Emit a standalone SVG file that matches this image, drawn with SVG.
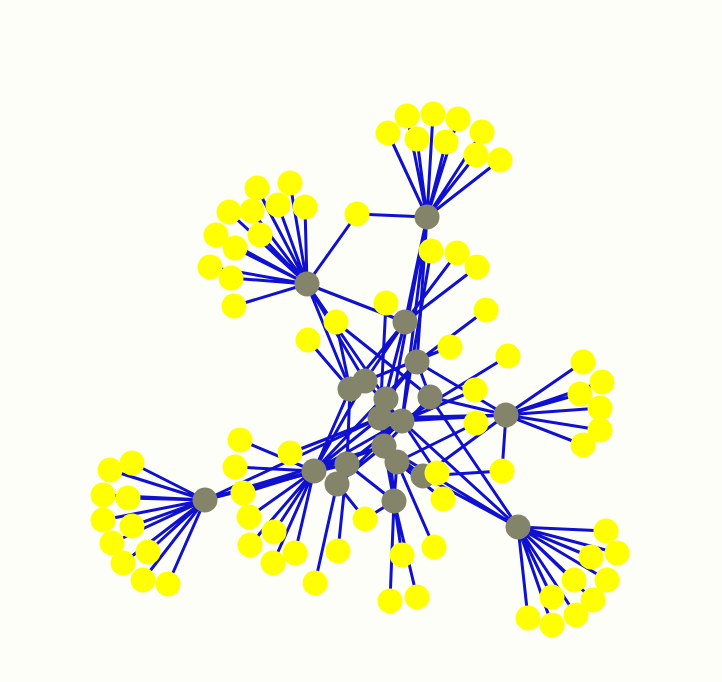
<svg xmlns="http://www.w3.org/2000/svg" width="722" height="682" viewBox="0 0 722 682">
<style>
.e{stroke:#1010d0;stroke-width:3;fill:none}
.h{fill:#84846a}
.y{fill:#ffff00}
</style>
<rect width="722" height="682" fill="#fefef8"/>
<g id="connectors" class="e">
<!-- hub A leaves -->
<path d="M307 284L257 188M307 284L290 183M307 284L278 205M307 284L305 207M307 284L229 212M307 284L252 211M307 284L216 235M307 284L260 235M307 284L235 248M307 284L210 267M307 284L231 278M307 284L234 306M307 284L357 214"/>
<!-- hub B leaves -->
<path d="M427 217L388 133M427 217L407 116M427 217L433 114M427 217L458 119M427 217L482 132M427 217L417 139M427 217L446 142M427 217L476 155M427 217L500 160M427 217L357 214"/>
<!-- hub L leaves -->
<path d="M506 415L583 362M506 415L602 382M506 415L580 394M506 415L600 408M506 415L600 430M506 415L583 445M506 415L502 471"/>
<!-- hub P leaves -->
<path d="M205 500L132 463M205 500L110 470M205 500L103 495M205 500L128 498M205 500L103 520M205 500L132 526M205 500L112 543M205 500L148 552M205 500L123 563M205 500L143 580M205 500L168 584"/>
<!-- hub M leaves -->
<path d="M314 471L240 440M314 471L235 467M314 471L243 493M314 471L249 517M314 471L274 532M314 471L250 545M314 471L295 553M314 471L273 563"/>
<!-- hub S leaves -->
<path d="M518 527L606 531M518 527L617 553M518 527L591 557M518 527L607 580M518 527L574 580M518 527L593 600M518 527L552 597M518 527L576 615M518 527L528 618M518 527L552 625"/>
<!-- central leaves -->
<path d="M402 421L431 251M405 322L457 253M405 322L477 267M417 362L486 310M380 418L386 303M350 389L336 322M430 397L336 322M350 389L308 340M365 381L450 347M402 421L508 356M402 421L475 390M397 462L476 423M380 418L290 453M337 484L315 583M347 464L338 551M337 484L365 519M394 501L365 519M394 501L402 555M397 462L434 547M394 501L390 601M394 501L417 597M397 462L443 499M402 421L437 473M423 476L502 471"/>
<!-- hub-hub -->
<path d="M307 284L405 322M307 284L350 389M307 284L365 381M307 284L386 399M427 217L405 322M427 217L417 362M427 217L402 421M427 217L384 446M405 322L350 389M405 322L365 381M405 322L380 418M417 362L430 397M417 362L386 399M417 362L506 415M417 362L314 471M350 389L314 471M350 389L347 464M365 381L314 471M365 381L402 421M430 397L506 415M430 397L518 527M430 397L384 446M386 399L394 501M380 418L506 415M380 418L205 500M380 418L314 471M402 421L506 415M402 421L518 527M402 421L347 464M402 421L337 484M384 446L205 500M384 446L518 527M384 446L314 471M384 446L394 501M397 462L394 501M397 462L518 527M314 471L205 500M347 464L205 500M314 471L402 421M347 464L394 501M337 484L384 446M423 476L518 527M423 476L506 415M423 476L384 446M394 501L380 418"/>
</g>
<g id="hubs" class="h">
<g id="hubA"><circle cx="307" cy="284" r="12.5"/></g>
<g id="hubB"><circle cx="427" cy="217" r="12.5"/></g>
<g id="hubC"><circle cx="405" cy="322" r="12.5"/></g>
<g id="hubD"><circle cx="417" cy="362" r="12.5"/></g>
<g id="hubE"><circle cx="350" cy="389" r="12.5"/></g>
<g id="hubF"><circle cx="365" cy="381" r="12.5"/></g>
<g id="hubG"><circle cx="430" cy="397" r="12.5"/></g>
<g id="hubHa"><circle cx="386" cy="399" r="12.5"/></g>
<g id="hubHb"><circle cx="380" cy="418" r="12.5"/></g>
<g id="hubI"><circle cx="402" cy="421" r="12.5"/></g>
<g id="hubJ"><circle cx="384" cy="446" r="12.5"/></g>
<g id="hubK"><circle cx="397" cy="462" r="12.5"/></g>
<g id="hubL"><circle cx="506" cy="415" r="12.5"/></g>
<g id="hubM"><circle cx="314" cy="471" r="12.5"/></g>
<g id="hubN"><circle cx="347" cy="464" r="12.5"/></g>
<g id="hubO"><circle cx="337" cy="484" r="12.5"/></g>
<g id="hubP"><circle cx="205" cy="500" r="12.5"/></g>
<g id="hubQ"><circle cx="394" cy="501" r="12.5"/></g>
<g id="hubR"><circle cx="423" cy="476" r="12.5"/></g>
<g id="hubS"><circle cx="518" cy="527" r="12.5"/></g>
</g>
<g id="leaves" class="y">
<g id="a1"><circle cx="257" cy="188" r="12.5"/></g>
<g id="a2"><circle cx="290" cy="183" r="12.5"/></g>
<g id="a3"><circle cx="229" cy="212" r="12.5"/></g>
<g id="a4"><circle cx="252" cy="211" r="12.5"/></g>
<g id="a5"><circle cx="278" cy="205" r="12.5"/></g>
<g id="a6"><circle cx="305" cy="207" r="12.5"/></g>
<g id="a7"><circle cx="216" cy="235" r="12.5"/></g>
<g id="a8"><circle cx="260" cy="235" r="12.5"/></g>
<g id="a9"><circle cx="235" cy="248" r="12.5"/></g>
<g id="a10"><circle cx="210" cy="267" r="12.5"/></g>
<g id="a11"><circle cx="231" cy="278" r="12.5"/></g>
<g id="a12"><circle cx="234" cy="306" r="12.5"/></g>
<g id="ab"><circle cx="357" cy="214" r="12.5"/></g>
<g id="b1"><circle cx="407" cy="116" r="12.5"/></g>
<g id="b2"><circle cx="433" cy="114" r="12.5"/></g>
<g id="b3"><circle cx="458" cy="119" r="12.5"/></g>
<g id="b4"><circle cx="388" cy="133" r="12.5"/></g>
<g id="b5"><circle cx="482" cy="132" r="12.5"/></g>
<g id="b6"><circle cx="417" cy="139" r="12.5"/></g>
<g id="b7"><circle cx="446" cy="142" r="12.5"/></g>
<g id="b8"><circle cx="476" cy="155" r="12.5"/></g>
<g id="b9"><circle cx="500" cy="160" r="12.5"/></g>
<g id="c1"><circle cx="431" cy="251" r="12.5"/></g>
<g id="c2"><circle cx="457" cy="253" r="12.5"/></g>
<g id="c3"><circle cx="477" cy="267" r="12.5"/></g>
<g id="c4"><circle cx="486" cy="310" r="12.5"/></g>
<g id="c5"><circle cx="386" cy="303" r="12.5"/></g>
<g id="c6"><circle cx="336" cy="322" r="12.5"/></g>
<g id="c7"><circle cx="308" cy="340" r="12.5"/></g>
<g id="c8"><circle cx="450" cy="347" r="12.5"/></g>
<g id="c9"><circle cx="508" cy="356" r="12.5"/></g>
<g id="c10"><circle cx="475" cy="390" r="12.5"/></g>
<g id="c11"><circle cx="476" cy="423" r="12.5"/></g>
<g id="c12"><circle cx="290" cy="453" r="12.5"/></g>
<g id="c13"><circle cx="437" cy="473" r="12.5"/></g>
<g id="c14"><circle cx="443" cy="499" r="12.5"/></g>
<g id="c15"><circle cx="365" cy="519" r="12.5"/></g>
<g id="c16"><circle cx="338" cy="551" r="12.5"/></g>
<g id="c17"><circle cx="315" cy="583" r="12.5"/></g>
<g id="c18"><circle cx="402" cy="555" r="12.5"/></g>
<g id="c19"><circle cx="434" cy="547" r="12.5"/></g>
<g id="c20"><circle cx="390" cy="601" r="12.5"/></g>
<g id="c21"><circle cx="417" cy="597" r="12.5"/></g>
<g id="l1"><circle cx="583" cy="362" r="12.5"/></g>
<g id="l2"><circle cx="602" cy="382" r="12.5"/></g>
<g id="l3"><circle cx="580" cy="394" r="12.5"/></g>
<g id="l4"><circle cx="600" cy="408" r="12.5"/></g>
<g id="l5"><circle cx="600" cy="430" r="12.5"/></g>
<g id="l6"><circle cx="583" cy="445" r="12.5"/></g>
<g id="l7"><circle cx="502" cy="471" r="12.5"/></g>
<g id="p1"><circle cx="132" cy="463" r="12.5"/></g>
<g id="p2"><circle cx="110" cy="470" r="12.5"/></g>
<g id="p3"><circle cx="103" cy="495" r="12.5"/></g>
<g id="p4"><circle cx="128" cy="498" r="12.5"/></g>
<g id="p5"><circle cx="103" cy="520" r="12.5"/></g>
<g id="p6"><circle cx="132" cy="526" r="12.5"/></g>
<g id="p7"><circle cx="112" cy="543" r="12.5"/></g>
<g id="p8"><circle cx="148" cy="552" r="12.5"/></g>
<g id="p9"><circle cx="123" cy="563" r="12.5"/></g>
<g id="p10"><circle cx="143" cy="580" r="12.5"/></g>
<g id="p11"><circle cx="168" cy="584" r="12.5"/></g>
<g id="m1"><circle cx="240" cy="440" r="12.5"/></g>
<g id="m2"><circle cx="235" cy="467" r="12.5"/></g>
<g id="m3"><circle cx="243" cy="493" r="12.5"/></g>
<g id="m4"><circle cx="249" cy="517" r="12.5"/></g>
<g id="m5"><circle cx="274" cy="532" r="12.5"/></g>
<g id="m6"><circle cx="250" cy="545" r="12.5"/></g>
<g id="m7"><circle cx="295" cy="553" r="12.5"/></g>
<g id="m8"><circle cx="273" cy="563" r="12.5"/></g>
<g id="s1"><circle cx="606" cy="531" r="12.5"/></g>
<g id="s2"><circle cx="617" cy="553" r="12.5"/></g>
<g id="s3"><circle cx="591" cy="557" r="12.5"/></g>
<g id="s4"><circle cx="607" cy="580" r="12.5"/></g>
<g id="s5"><circle cx="574" cy="580" r="12.5"/></g>
<g id="s6"><circle cx="593" cy="600" r="12.5"/></g>
<g id="s7"><circle cx="552" cy="597" r="12.5"/></g>
<g id="s8"><circle cx="576" cy="615" r="12.5"/></g>
<g id="s9"><circle cx="528" cy="618" r="12.5"/></g>
<g id="s10"><circle cx="552" cy="625" r="12.5"/></g>
</g>
</svg>
